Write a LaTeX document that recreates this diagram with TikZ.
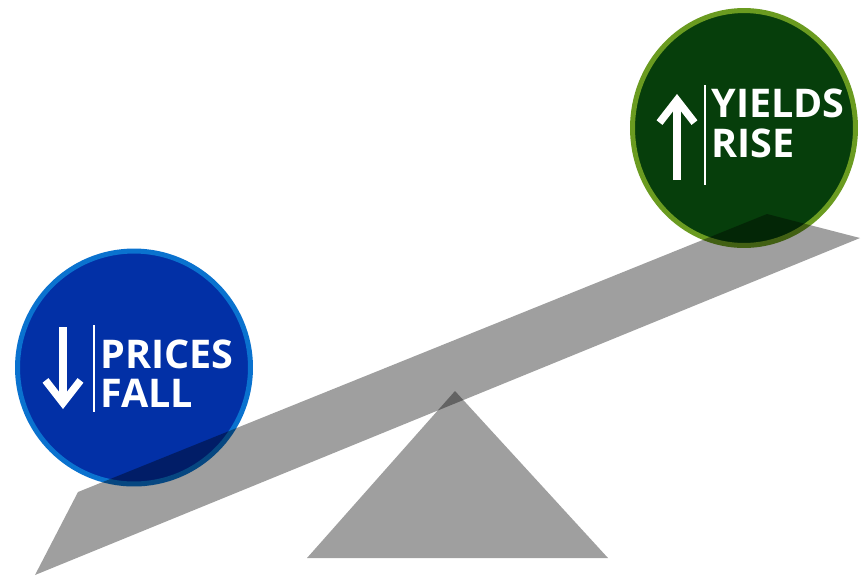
\documentclass[tikz,border=0pt]{standalone}
\usepackage{xcolor}
\usepackage{fontspec}
\usepackage{tikz}
\usetikzlibrary{arrows.meta,shapes.geometric}
\newfontfamily\capsfont{Open Sans}
\definecolor{pricecolor}{HTML}{0230A6}
\definecolor{pricering}{HTML}{0A72CF}
\definecolor{yieldcolor}{HTML}{063E0B}
\definecolor{yieldring}{HTML}{6A9B20}

\begin{document}
\begin{tikzpicture}[x=0.02cm, y=-0.02cm,
  coin/.style={draw, line width=0.1cm, inner sep=0},
  plank/.style={fill=black, fill opacity=0.375},
  caption/.style={anchor=base west, inner sep=0, text=white, font=\capsfont\bfseries\fontsize{22.5pt}{24pt}\selectfont},
  pointer/.style={draw=white, line width=0.15cm, -{Straight Barb[length=0.45cm, width=0.7cm]}},
  divider/.style={draw=white, line width=0.025cm}]%
\fill[white] (0,0) rectangle (861,576);%
\useasboundingbox (0,0) rectangle (861,576);%
% the two weights
\node[coin, circle, minimum size=4.66cm, fill=pricecolor, draw=pricering] (prices) at (134,367.5) {};%
\node[coin, ellipse, minimum width=4.46cm, minimum height=4.7cm, fill=yieldcolor, draw=yieldring] (yields) at (744,128) {};%
% labels
\node[caption] (pricesword) at (100,368) {PRICES};%
\node[caption] (fallword) at (100,407) {FALL};%
\node[caption] (yieldsword) at (711,117) {YIELDS};%
\node[caption] (riseword) at (711,157) {RISE};%
% arrows and dividers
\coordinate (falltop) at (63,327);%
\coordinate (fallend) at (63,409);%
\coordinate (risebot) at (677,180);%
\coordinate (riseend) at (677,94);%
\draw[pointer] (falltop) -- (fallend);%
\draw[pointer] (risebot) -- (riseend);%
\coordinate (pricebar1) at (94,325);%
\coordinate (pricebar2) at (94,412);%
\coordinate (yieldbar1) at (705,85);%
\coordinate (yieldbar2) at (705,185);%
\draw[divider] (pricebar1) -- (pricebar2);%
\draw[divider] (yieldbar1) -- (yieldbar2);%
% seesaw
\fill[plank] (35,575) -- (78,492) -- (767,214) -- (860,238) -- cycle;%
\fill[plank] (455,391) -- (608,558) -- (307,558) -- cycle;%
\end{tikzpicture}
\end{document}
